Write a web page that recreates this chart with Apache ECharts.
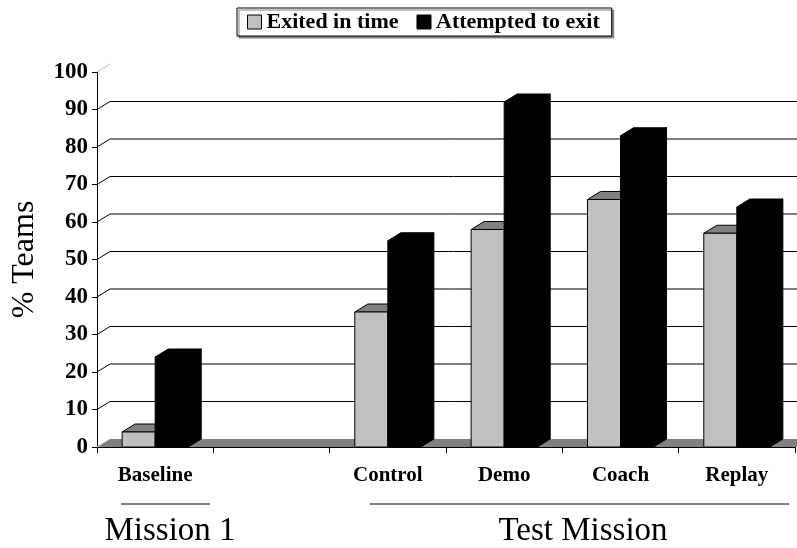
<!DOCTYPE html>
<html>
<head>
<meta charset="utf-8">
<script src="https://cdn.jsdelivr.net/npm/echarts@6/dist/echarts.min.js"></script>
<style>
  html, body { margin: 0; padding: 0; background: #fff; }
  #main { width: 797px; height: 548px; }
</style>
</head>
<body>
<div id="main"></div>
<script>
// chart data
var categories = ['Baseline', '', 'Control', 'Demo', 'Coach', 'Replay'];
var exitedInTime = [4, null, 36, 58, 66, 57];
var attemptedToExit = [24, null, 55, 92, 83, 64];
var yTicks = [0, 10, 20, 30, 40, 50, 60, 70, 80, 90, 100];

var FONT = '"Liberation Serif", "Times New Roman", serif';
var DX = 13, DY = 8; // 3d depth

function toData(arr) {
  var out = [];
  arr.forEach(function (v, i) {
    if (v !== null) out.push([i, v]);
  });
  return out;
}

// back wall: gridlines + floor
function renderWall(params, api) {
  var v = api.value(1);
  var cs = params.coordSys;
  var p = api.coord([0, v]);
  var x0 = cs.x, y = p[1];
  var right = cs.x + cs.width + 2;
  if (v === 0) {
    return {
      type: 'group',
      children: [{
        type: 'polygon',
        shape: { points: [[x0, y], [x0 + DX, y - DY], [right, y - DY], [right, y]] },
        style: { fill: '#808080' }
      }, {
        type: 'line',
        shape: { x1: x0, y1: y, x2: x0 + DX, y2: y - DY },
        style: { stroke: '#c0c0c0', lineWidth: 1 }
      }]
    };
  }
  var children = [{
    type: 'line',
    shape: { x1: x0, y1: y, x2: x0 + DX, y2: y - DY },
    style: { stroke: v === 100 ? '#c0c0c0' : '#000', lineWidth: 1 }
  }];
  if (v < 100) {
    children.push({
      type: 'line',
      shape: { x1: x0 + DX, y1: y - DY, x2: right, y2: y - DY },
      style: { stroke: '#000', lineWidth: 1 }
    });
  }
  return { type: 'group', children: children };
}

function makeBar(side, front, topFill) {
  return function (params, api) {
    var cat = api.value(0), v = api.value(1);
    var base = api.coord([cat, 0]);
    var top = api.coord([cat, v]);
    var band = api.size([1, 0])[0];
    var w = band * 0.284;
    var x0 = side === 0 ? base[0] - w : base[0];
    var x1 = x0 + w;
    var ty = top[1], by = base[1];
    var edge = { stroke: '#000', lineWidth: 1 };
    return {
      type: 'group',
      children: [{
        type: 'polygon',
        shape: { points: [[x1, ty], [x1 + DX, ty - DY], [x1 + DX, by - DY], [x1, by]] },
        style: Object.assign({ fill: topFill }, edge)
      }, {
        type: 'polygon',
        shape: { points: [[x0, ty], [x0 + DX, ty - DY], [x1 + DX, ty - DY], [x1, ty]] },
        style: Object.assign({ fill: topFill }, edge)
      }, {
        type: 'rect',
        shape: { x: x0, y: ty, width: w, height: by - ty },
        style: Object.assign({ fill: front }, edge)
      }]
    };
  };
}

var chart = echarts.init(document.getElementById('main'));

var option = {
  animation: false,
  legend: {
    data: ['Exited in time', 'Attempted to exit'],
    left: 237,
    top: 8,
    icon: 'rect',
    itemWidth: 14,
    itemHeight: 14,
    itemGap: 18,
    padding: [3, 12, 3, 10],
    borderColor: '#000',
    borderWidth: 1,
    borderRadius: 0,
    backgroundColor: '#fff',
    shadowColor: '#808080',
    shadowOffsetX: 2,
    shadowOffsetY: 2,
    shadowBlur: 0,
    itemStyle: { borderColor: '#000', borderWidth: 1 },
    textStyle: {
      fontFamily: FONT,
      fontWeight: 'bold',
      fontSize: 22,
      color: '#000',
      padding: [0, 0, 0, 0]
    }
  },
  grid: {
    left: 97,
    right: 2,
    top: 72,
    bottom: 101,
    outerBoundsMode: 'none'
  },
  xAxis: {
    type: 'category',
    data: categories,
    axisLine: { lineStyle: { color: '#000', width: 1 } },
    axisTick: { show: true, length: 6, lineStyle: { color: '#000' } },
    axisLabel: {
      fontFamily: FONT,
      fontWeight: 'bold',
      fontSize: 21,
      color: '#000',
      margin: 18
    },
    splitLine: { show: false }
  },
  yAxis: {
    type: 'value',
    min: 0,
    max: 100,
    interval: 10,
    name: '% Teams',
    nameLocation: 'middle',
    nameRotate: 90,
    nameGap: 56,
    nameTextStyle: { fontFamily: FONT, fontSize: 32, color: '#000' },
    axisLine: { show: true, lineStyle: { color: '#000', width: 1 } },
    axisTick: { show: true, length: 5, lineStyle: { color: '#000' } },
    axisLabel: {
      fontFamily: FONT,
      fontWeight: 'bold',
      fontSize: 23,
      color: '#000',
      margin: 9
    },
    splitLine: { show: false }
  },
  series: [{
    name: 'wall',
    type: 'custom',
    renderItem: renderWall,
    encode: { x: 0, y: 1 },
    data: yTicks.map(function (v) { return [0, v]; }),
    silent: true,
    z: 1
  }, {
    name: 'Exited in time',
    type: 'custom',
    renderItem: makeBar(0, '#c0c0c0', '#808080'),
    encode: { x: 0, y: 1 },
    itemStyle: { color: '#c0c0c0' },
    data: toData(exitedInTime),
    z: 2
  }, {
    name: 'Attempted to exit',
    type: 'custom',
    renderItem: makeBar(1, '#000', '#000'),
    encode: { x: 0, y: 1 },
    itemStyle: { color: '#000' },
    data: toData(attemptedToExit),
    z: 3
  }],
  graphic: [{
    type: 'line',
    shape: { x1: 121, y1: 504, x2: 210, y2: 504 },
    style: { stroke: '#000', lineWidth: 1 }
  }, {
    type: 'line',
    shape: { x1: 370, y1: 504, x2: 789, y2: 504 },
    style: { stroke: '#000', lineWidth: 1 }
  }, {
    type: 'text',
    x: 170,
    y: 531,
    style: {
      text: 'Mission 1',
      font: '33px ' + FONT,
      fill: '#000',
      align: 'center',
      verticalAlign: 'middle'
    }
  }, {
    type: 'text',
    x: 583,
    y: 531,
    style: {
      text: 'Test Mission',
      font: '33px ' + FONT,
      fill: '#000',
      align: 'center',
      verticalAlign: 'middle'
    }
  }]
};

chart.setOption(option);
</script>
</body>
</html>
